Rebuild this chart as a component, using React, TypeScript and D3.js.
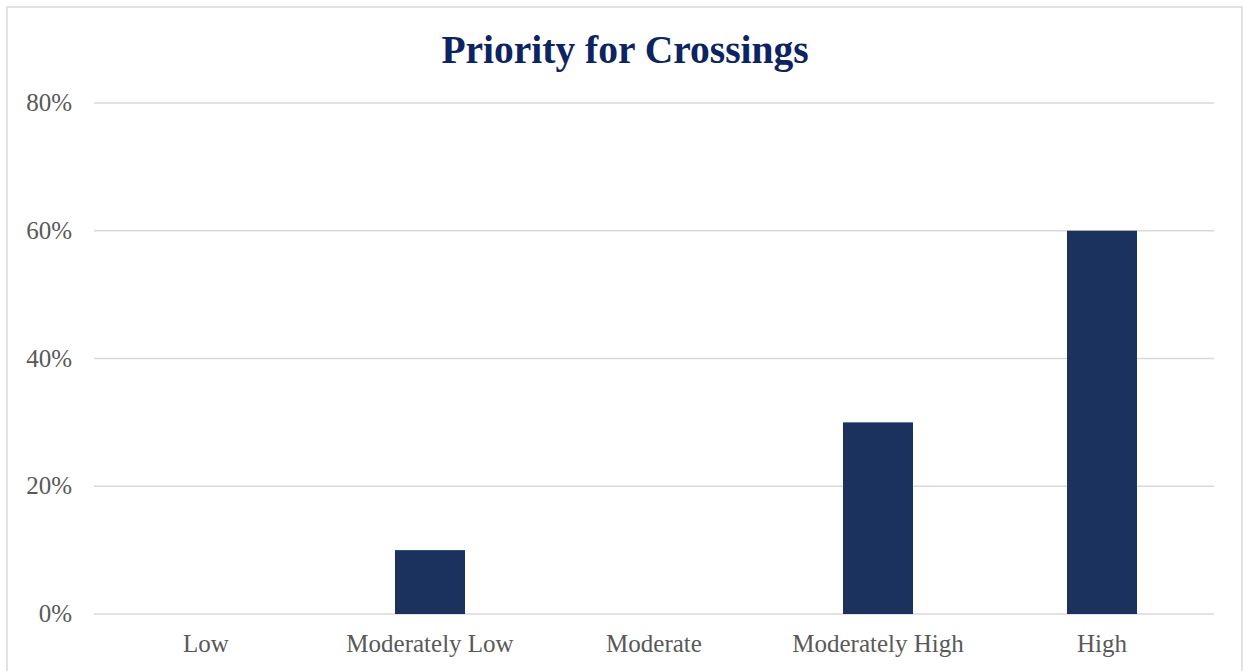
import * as d3 from "d3";
import { useEffect, useRef } from "react";

const categories: string[] = ["Low", "Moderately Low", "Moderate", "Moderately High", "High"];
const values: number[] = [0, 0.1, 0, 0.3, 0.6];
const yTicks: number[] = [0, 0.2, 0.4, 0.6, 0.8];

export default function App() {
  const svgRef = useRef<SVGSVGElement | null>(null);

  useEffect(() => {
    const width = 1244;
    const height = 671;
    const svg = d3.select(svgRef.current).attr("width", width).attr("height", height);
    svg.selectAll("*").remove();

    const font = "'Liberation Serif', serif";

    // chart border
    svg.append("rect")
      .attr("x", 7).attr("y", 7)
      .attr("width", 1235).attr("height", 680)
      .attr("fill", "white")
      .attr("stroke", "#d9d9d9").attr("stroke-width", 1.5);

    const left = 94, right = 1214, top = 103, bottom = 614;

    const x = d3.scaleBand<string>()
      .domain(categories)
      .range([left, right])
      .paddingInner(0.6875)
      .paddingOuter(0.34375);

    const y = d3.scaleLinear().domain([0, 0.8]).range([bottom, top]);

    svg.append("text")
      .attr("x", 625).attr("y", 63)
      .attr("text-anchor", "middle")
      .attr("font-family", font)
      .attr("font-weight", "bold")
      .attr("font-size", 39.5)
      .attr("fill", "#0c2461")
      .text("Priority for Crossings");

    const grid = svg.append("g");
    grid.selectAll("line")
      .data(yTicks)
      .enter()
      .append("line")
      .attr("x1", left).attr("x2", right)
      .attr("y1", d => y(d)).attr("y2", d => y(d))
      .attr("stroke", "#d9d9d9").attr("stroke-width", 1.5);

    const fmt = d3.format(".0%");
    svg.append("g").selectAll("text")
      .data(yTicks)
      .enter()
      .append("text")
      .attr("x", 72)
      .attr("y", d => y(d) + 8)
      .attr("text-anchor", "end")
      .attr("font-family", font)
      .attr("font-size", 25)
      .attr("fill", "#595959")
      .text(d => fmt(d));

    svg.append("g").selectAll("rect")
      .data(values)
      .enter()
      .append("rect")
      .attr("x", (_, i) => x(categories[i]) as number)
      .attr("width", x.bandwidth())
      .attr("y", d => y(d))
      .attr("height", d => bottom - y(d))
      .attr("fill", "#1b325e");

    svg.append("g").selectAll("text")
      .data(categories)
      .enter()
      .append("text")
      .attr("x", d => (x(d) as number) + x.bandwidth() / 2)
      .attr("y", 652)
      .attr("text-anchor", "middle")
      .attr("font-family", font)
      .attr("font-size", 25)
      .attr("fill", "#595959")
      .text(d => d);
  }, []);

  return (
    <svg ref={svgRef} style={{ position: "absolute", left: 0, top: 0, display: "block" }}></svg>
  );
}
